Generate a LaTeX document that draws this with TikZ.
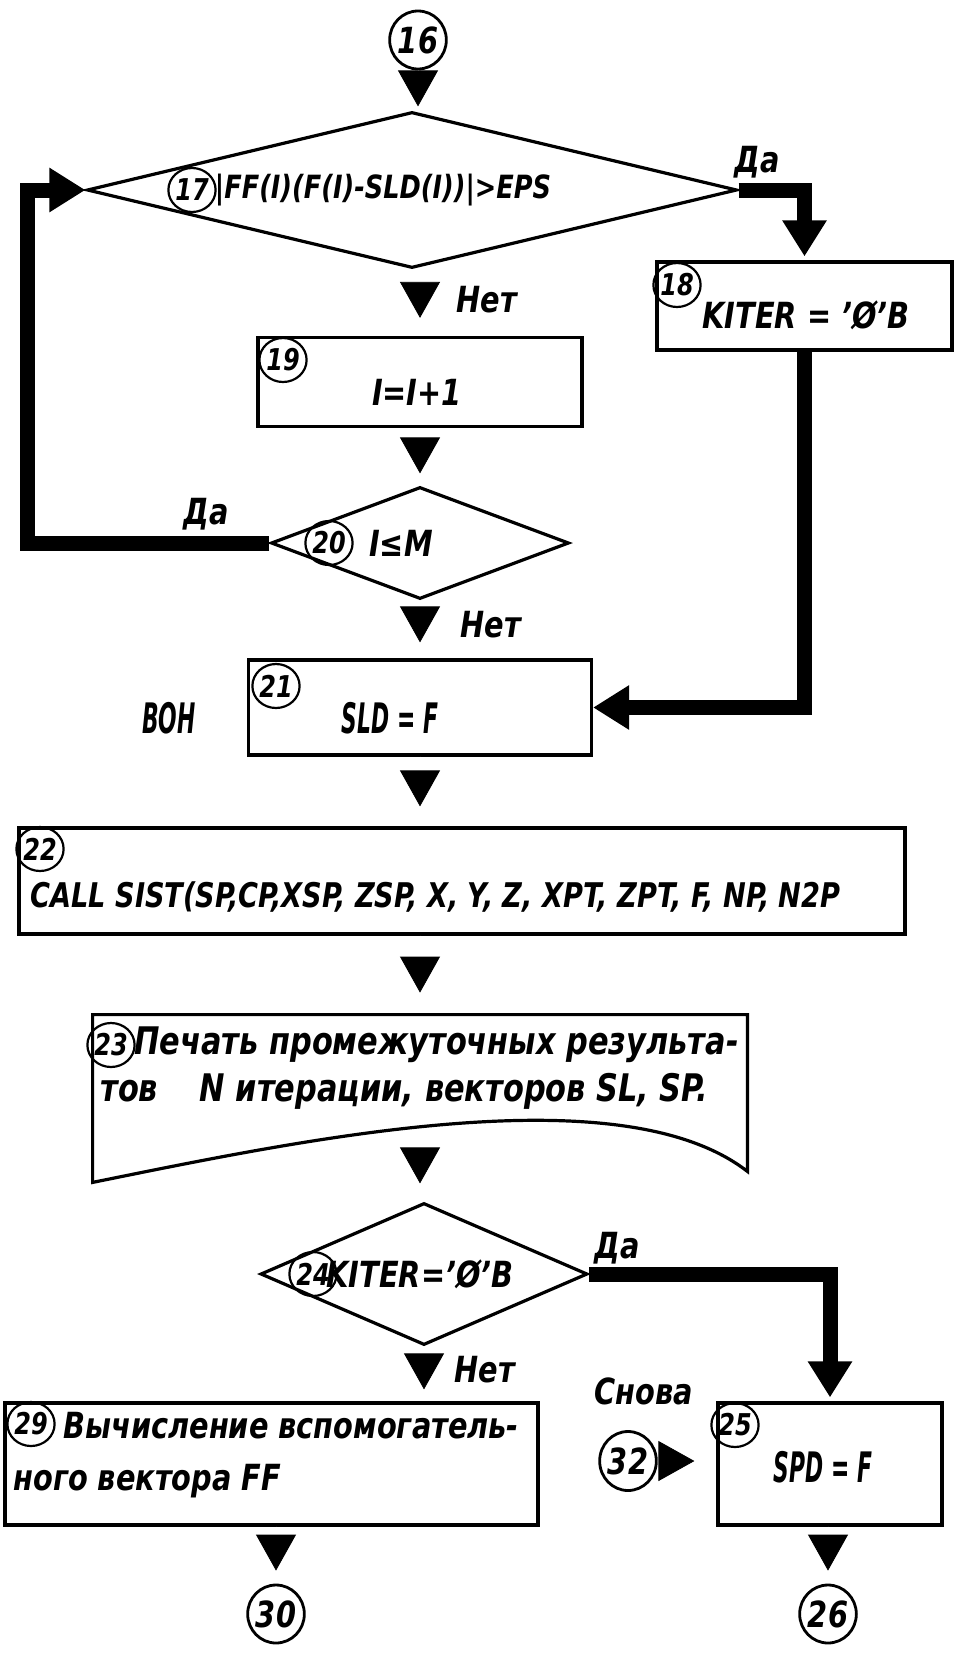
\documentclass[tikz,border=0pt]{standalone}
\usepackage{fontspec}
\setmainfont{DejaVu Sans}[FakeStretch=0.8]
\newfontfamily\narrowfont{DejaVu Sans}[FakeStretch=0.52]
\usepackage{tikz}
\usetikzlibrary{arrows.meta,positioning,calc,shapes.geometric}

\begin{document}
\begin{tikzpicture}[
  x=0.5pt,y=-0.5pt,
  font=\bfseries\itshape\fontsize{18}{24}\selectfont,
  box/.style={draw,line width=1.6pt,inner sep=0pt},
  cond/.style={draw,diamond,line width=1.6pt,inner sep=0pt},
  conn/.style={draw,ellipse,line width=1.4pt,inner sep=0pt,minimum width=27pt,minimum height=29pt},
  num/.style={draw,ellipse,line width=1.1pt,inner sep=0pt,minimum width=20pt,minimum height=22pt,font=\bfseries\itshape\fontsize{15}{15}\selectfont},
  arr/.style={draw=white,line width=0.4pt,-{Triangle[length=18pt,width=20pt,color=black,fill=black]}},
  yes/.style={line width=7.5pt,line join=miter,-{Triangle[length=18pt,width=21pt]}},
  lbl/.style={inner sep=0pt},
  nlbl/.style={inner sep=0pt,font=\narrowfont\bfseries\itshape\fontsize{21}{24}\selectfont}
]
\useasboundingbox (0,0) rectangle (956,1654);

% upper loop
\node[conn] (c16) at (418,40) {16};
\node[cond,minimum width=325pt,minimum height=78pt] (d17) at (412,190) {};
\node[num] (n17) at (192,190) {17};
\node[lbl,font=\bfseries\itshape\fontsize{16}{16}\selectfont] (t17) at (383,190) {|FF(I)(F(I)-SLD(I))|>EPS};
\node[lbl] (da1) at (757,162) {Да};

\node[box,minimum width=147.5pt,minimum height=44pt] (b18) at (804.5,306) {};
\node[num] (n18) at (677,285) {18};
\node[lbl] (t18) at (806,315) {KITER = ’Ø’B};

\node[lbl] (net1) at (487,300) {Нет};
\node[box,minimum width=162pt,minimum height=44.5pt] (b19) at (420,382) {};
\node[num] (n19) at (283,360) {19};
\node[lbl] (t19) at (417,392) {I=I+1};

\node[cond,minimum width=149pt,minimum height=56pt] (d20) at (420,543) {};
\node[num] (n20) at (329,543) {20};
\node[lbl] (t20) at (401,543) {I≤M};
\node[lbl] (da2) at (206,514) {Да};
\coordinate (lp) at (27,190);

\node[lbl] (net2) at (491,625) {Нет};
\node[box,minimum width=171.5pt,minimum height=47.5pt] (b21) at (420,707.5) {};
\node[num] (n21) at (276,686) {21};
\node[nlbl] (t21) at (390,718) {SLD = F};
\node[nlbl] (von) at (169,718) {ВОН};

% call and print
\node[box,minimum width=443pt,minimum height=53pt] (b22) at (462,881) {};
\node[num] (n22) at (40,849) {22};
\node[lbl,anchor=west,font=\bfseries\itshape\fontsize{17}{17}\selectfont] (t22) at (30,897) {CALL SIST(SP,CP,XSP, ZSP, X, Y, Z, XPT, ZPT, F, NP, N2P};

\node[inner sep=0pt,minimum width=327pt,minimum height=83.5pt] (p23) at (420,1098.5) {};
\draw[line width=1.6pt,line join=miter] (p23.south west) -- (p23.north west) -- (p23.north east)
  -- ($(p23.south east)+(0,-11)$) .. controls ($(p23.south)+(200,-110)$) and ($(p23.south)+(-120,-42)$) .. (p23.south west) -- cycle;
\node[num] (n23) at (111,1045) {23};
\node[lbl,anchor=west,align=left,font=\bfseries\itshape\fontsize{19}{23.5}\selectfont] (t23) at (100,1068)
  {\hspace*{17pt}Печать промежуточных результа-\\тов\hspace{1.1em}N итерации, векторов SL, SP.};
\coordinate (w23) at ($(p23.south)+(0,-40)$);

% lower part
\node[cond,minimum width=163.5pt,minimum height=71pt] (d24) at (424,1274) {};
\node[num] (n24) at (313,1274) {24};
\node[lbl] (t24) at (420,1274) {KITER=’Ø’B};
\node[lbl] (da3) at (617,1248) {Да};

\node[lbl] (net3) at (485,1370) {Нет};
\node[box,minimum width=266.5pt,minimum height=61pt] (b29) at (271.5,1464) {};
\node[num] (n29) at (31,1424) {29};
\node[lbl,anchor=west,align=left,font=\bfseries\itshape\fontsize{18}{26}\selectfont] (t29) at (13,1455)
  {\hspace*{25pt}Вычисление вспомогатель-\\ного вектора FF};

\node[box,minimum width=112pt,minimum height=61pt] (b25) at (830,1464) {};
\node[num] (n25) at (735,1425) {25};
\node[nlbl] (t25) at (823,1467) {SPD = F};
\node[lbl] (snova) at (644,1391) {Снова};
\node[conn,minimum width=23.5pt,minimum height=29.5pt] (c32) at (628,1461) {32};
\node[conn] (c30) at (276,1614) {30};
\node[conn] (c26) at (828,1614) {26};

% connectors
\draw[arr,shorten >=2pt] (c16) -- (c16 |- d17.north);
\draw[yes,shorten >=2pt] (d17.east) -| (b18.north);
\draw[arr,shorten >=9pt] (d17.south -| b19) -- (b19);
\draw[arr,shorten >=6pt] (b19) -- (d20);
\draw[yes] (d20.west) -| (lp) -- (d17.west);
\draw[arr,shorten >=8pt] (d20) -- (b21);
\draw[yes] (b18.south) |- (b21.east);
\draw[arr,shorten >=10pt] (b21) -- (b21 |- b22.north);
\draw[arr,shorten >=11pt] (b22.south -| p23) -- (p23.north);
\draw[arr,shorten >=9pt] (w23) -- (w23 |- d24.north);
\draw[yes,shorten >=2pt] (d24.east) -| (b25.north);
\draw[arr,shorten >=6pt] (d24.south) -- (d24.south |- b29.north);
\draw[arr,shorten >=11pt] (c32) -- (c32 -| b25.west);
\draw[arr,shorten >=6.5pt] (b29.south -| c30) -- (c30);
\draw[arr,shorten >=6.5pt] (b25.south -| c26) -- (c26);
\end{tikzpicture}
\end{document}
